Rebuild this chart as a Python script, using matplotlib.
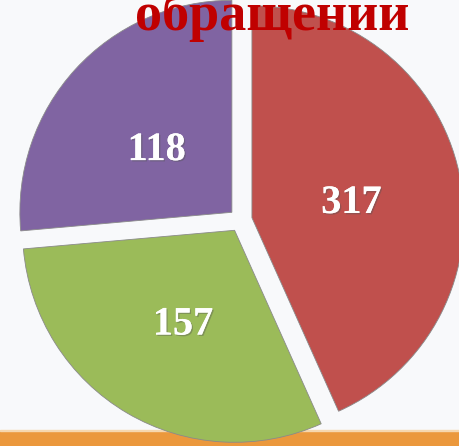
import matplotlib
matplotlib.use("Agg")
import matplotlib.pyplot as plt
import matplotlib.patheffects as pe
from matplotlib.transforms import offset_copy

# Data
values = [317, 157, 118]
# angular shares of the slices as drawn in the reference (percent)
shares = [43.3, 30.3, 26.4]
colors = ["#C0504D", "#9BBB59", "#8064A2"]
title = "обращений"

W, H = 460, 446
fig = plt.figure(figsize=(W / 100, H / 100), dpi=100)
fig.patch.set_facecolor("#F8F9FB")
ax = fig.add_axes([0, 0, 1, 1])

# orange band at the bottom
ax.axhspan(0, 15, color="#EB983C", zorder=0)
ax.axhspan(15, 16.5, color="#F6D7AE", zorder=0)

radius = 212
wedges, texts = ax.pie(
    shares,
    colors=colors,
    startangle=90,
    counterclock=False,
    explode=[11.7] * 3,
    center=(240.5, 225.8),
    radius=radius,
    labels=[str(v) for v in values],
    labeldistance=0.48,
    frame=True,
    wedgeprops=dict(edgecolor="#8a8a8a", linewidth=0.6, zorder=2),
    textprops=dict(color="white", fontsize=29, fontweight="bold",
                   family="Liberation Serif", ha="center", va="center"),
)
ax.set_xlim(0, W)
ax.set_ylim(0, H)
ax.set_aspect("equal")
ax.axis("off")
for t in texts:
    t.set_zorder(5)
    t.set_transform(offset_copy(t.get_transform(), fig=fig, x=0, y=-7, units="dots"))
    t.set_path_effects([pe.withSimplePatchShadow(offset=(1, -1), shadow_rgbFace="#555555", alpha=0.4), pe.Normal()])

ax.text(272, H - 30, title, color="#C00000", fontsize=39, fontweight="bold",
        family="Liberation Serif", ha="center", va="baseline", zorder=6)

fig.savefig("out.png", dpi=100, facecolor=fig.get_facecolor())
